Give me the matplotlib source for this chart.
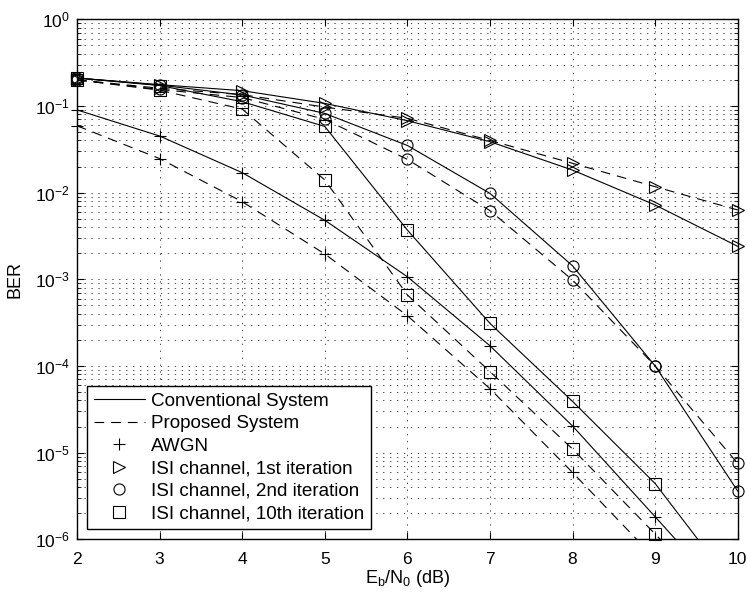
import matplotlib
matplotlib.use("Agg")
import matplotlib.pyplot as plt
from matplotlib.lines import Line2D
from matplotlib.ticker import LogLocator, NullFormatter, MultipleLocator
import numpy as np

plt.rcParams['font.family'] = ['Liberation Sans', 'DejaVu Sans']
plt.rcParams['mathtext.default'] = 'regular'
plt.rcParams['lines.scale_dashes'] = False

ebn0 = [2, 3, 4, 5, 6, 7, 8, 9, 10]

# conventional system (solid)
awgn_conv = [0.09, 0.045, 0.017, 0.0048, 0.00107, 1.71e-4, 2.03e-5, 1.82e-6, 1.6e-7]
iter1_conv = [0.21, 0.176, 0.15, 0.107, 0.0676, 0.0387, 0.0182, 0.0072, 0.0024]
iter2_conv = [0.21, 0.174, 0.134, 0.082, 0.035, 0.0098, 0.00143, 1.0e-4, 3.6e-6]
iter10_conv = [0.21, 0.172, 0.112, 0.058, 0.0037, 3.1e-4, 3.9e-5, 4.4e-6, 2.5e-7]

# proposed system (dashed)
awgn_prop = [0.059, 0.0247, 0.00786, 0.00196, 3.8e-4, 5.47e-5, 5.9e-6, 6.0e-7, 7.0e-8]
iter1_prop = [0.2, 0.16, 0.135, 0.097, 0.072, 0.040, 0.0218, 0.0117, 0.0063]
iter2_prop = [0.2, 0.155, 0.125, 0.07, 0.0242, 0.0062, 9.8e-4, 1.0e-4, 7.5e-6]
iter10_prop = [0.2, 0.152, 0.092, 0.014, 6.6e-4, 8.6e-5, 1.1e-5, 1.15e-6, 1.2e-7]

series = [
    (awgn_conv, '+', '-'), (iter1_conv, '>', '-'), (iter2_conv, 'o', '-'), (iter10_conv, 's', '-'),
    (awgn_prop, '+', '--'), (iter1_prop, '>', '--'), (iter2_prop, 'o', '--'), (iter10_prop, 's', '--'),
]

fig = plt.figure(figsize=(7.47, 5.95), dpi=100)
ax = fig.add_axes([0.1031, 0.0936, 0.8845, 0.874])

ymin, ymax = 1e-6, 1.0
for vals, mk, ls in series:
    x = np.array(ebn0, dtype=float)
    y = np.array(vals, dtype=float)
    line, = ax.plot(x, y, color='black', lw=0.8, ls=ls)
    if ls == '--':
        line.set_dashes((7, 5))
    # markers are left unclipped at the axes border, lines are clipped
    keep = y >= ymin
    ax.plot(x[keep], y[keep], ls='none', marker=mk, markersize=8 if mk != '+' else 9,
            markerfacecolor='none', markeredgecolor='black', markeredgewidth=0.8,
            clip_on=False, zorder=3)

ax.set_yscale('log')
ax.set_xlim(2, 10)
ax.set_ylim(ymin, ymax)
ax.xaxis.set_major_locator(MultipleLocator(1))
ax.yaxis.set_major_locator(LogLocator(base=10, numticks=10))
ax.yaxis.set_minor_locator(LogLocator(base=10, subs=np.arange(2, 10), numticks=20))
ax.yaxis.set_minor_formatter(NullFormatter())

ax.grid(True, which='major', axis='both', color='black', ls=(0, (1, 4)), lw=0.6, alpha=0.8)
ax.grid(True, which='minor', axis='y', color='black', ls=(0, (1, 4)), lw=0.6, alpha=0.8)

ax.tick_params(which='both', direction='in', top=True, right=True, labelsize=12.5)
ax.tick_params(which='major', length=5)
ax.tick_params(which='minor', length=3)
ax.tick_params(axis='x', pad=9)
ax.tick_params(axis='y', pad=5)
for sp in ax.spines.values():
    sp.set_linewidth(1.0)

ax.set_xlabel('$E_b/N_0$ (dB)', fontsize=13, labelpad=1)
ax.set_ylabel('BER', fontsize=13, labelpad=8)

handles = [
    Line2D([], [], color='black', lw=0.8, ls='-'),
    Line2D([], [], color='black', lw=0.8, dashes=(7, 5)),
    Line2D([], [], ls='none', marker='+', color='black', markersize=9, markeredgewidth=0.8),
    Line2D([], [], ls='none', marker='>', color='black', markerfacecolor='none', markersize=8, markeredgewidth=0.8),
    Line2D([], [], ls='none', marker='o', color='black', markerfacecolor='none', markersize=8, markeredgewidth=0.8),
    Line2D([], [], ls='none', marker='s', color='black', markerfacecolor='none', markersize=8, markeredgewidth=0.8),
]
labels = ['Conventional System', 'Proposed System', 'AWGN',
          'ISI channel, 1st iteration', 'ISI channel, 2nd iteration', 'ISI channel, 10th iteration']
leg = ax.legend(handles, labels, loc='lower left', bbox_to_anchor=(0.015, 0.02),
                borderaxespad=0, fontsize=13.6, fancybox=False, framealpha=1,
                edgecolor='black', handlelength=2.7, handletextpad=0.35,
                labelspacing=0.28, borderpad=0.35)
leg.get_frame().set_linewidth(1.0)

fig.savefig('out.png', dpi=100)
